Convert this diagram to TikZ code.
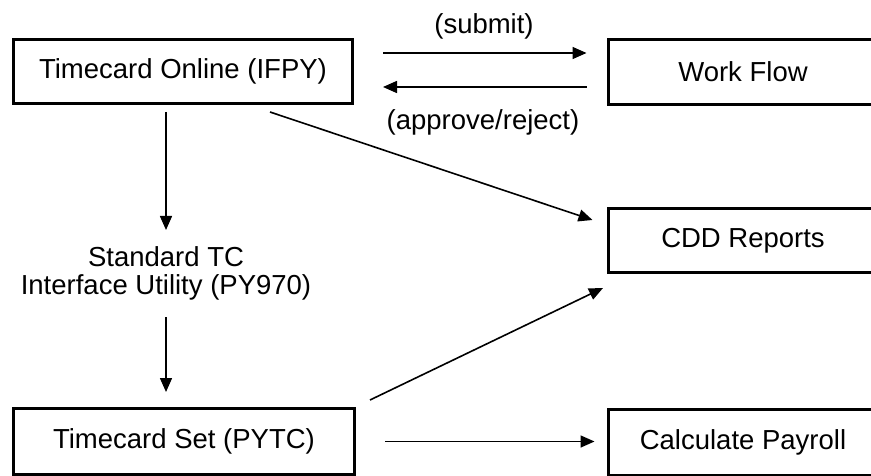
\documentclass[tikz,border=0pt]{standalone}
\usepackage{fontspec}
\setmainfont{Liberation Sans}
\usetikzlibrary{arrows.meta,calc}
\begin{document}
\begin{tikzpicture}[x=1pt,y=-1pt,
  box/.style={draw=black, line width=3pt, rectangle, inner sep=0pt, font=\fontsize{27.5}{30}\selectfont},
  lbl/.style={inner sep=0pt, font=\fontsize{27.5}{28}\selectfont, align=center},
  arr/.style={line width=1.6pt, -{Triangle[length=14pt,width=12pt]}}]
\useasboundingbox (0,0) rectangle (871,476);
\node[box, minimum width=339pt, minimum height=64pt] (tco) at (183,71.5) {Timecard Online (IFPY)};
\node[box, minimum width=270pt, minimum height=65pt] (wf) at (743,72) {Work Flow};
\node[box, minimum width=270pt, minimum height=64pt] (cdd) at (743,240.5) {CDD Reports};
\node[box, minimum width=341pt, minimum height=66pt] (tcs) at (184,441.5) {Timecard Set (PYTC)};
\node[box, minimum width=270pt, minimum height=66pt] (cp) at (743,442) {Calculate Payroll};
\node[lbl] (ifu) at (166,273) {Standard TC\\Interface Utility (PY970)};
\node[lbl] (sub) at (484,26) {(submit)};
\node[lbl] (apr) at (483,122) {(approve/reject)};
\draw[arr, shorten <=29pt, shorten >=20pt] (tco.east |- 0,53) -- (wf.west |- 0,53);
\draw[arr, shorten <=20pt, shorten >=29pt] (wf.west |- 0,87) -- (tco.east |- 0,87);
\draw[arr, shorten <=7pt] (tco.south -| 166,0) -- (166,230);
\draw[arr] (166,317) -- ($(tcs.north -| 166,0)+(0,-15)$);
\draw[arr] ($(tco.south east)+(-84,7)$) -- ($(cdd.west)+(-14,-20.5)$);
\draw[arr] ($(tcs.north east)+(14,-7)$) -- ($(cdd.south west)+(-3.5,14)$);
\draw[arr, shorten <=29pt, shorten >=12pt] (tcs.east) -- (cp.west |- tcs.east);
\end{tikzpicture}
\end{document}
